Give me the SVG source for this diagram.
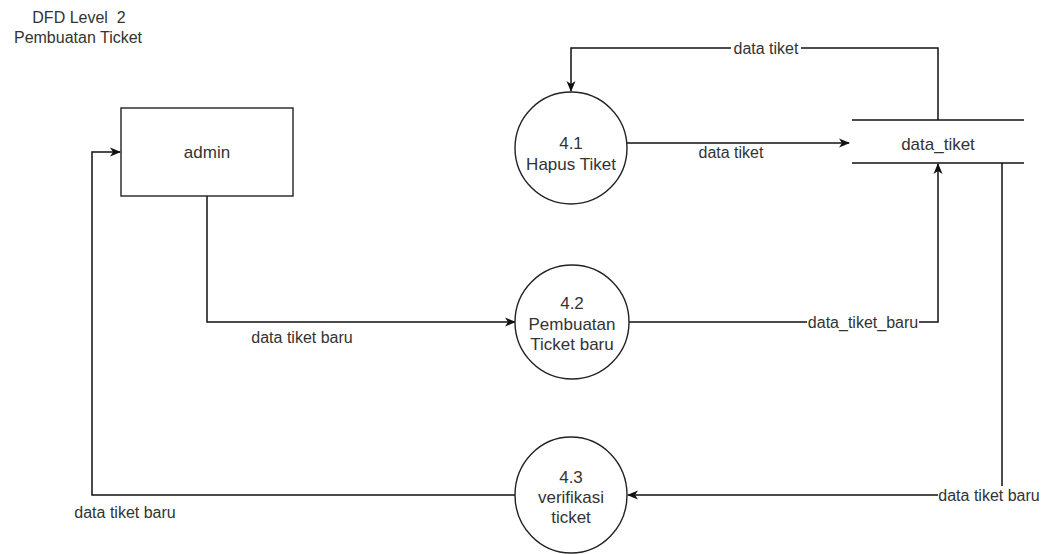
<svg xmlns="http://www.w3.org/2000/svg" width="1046" height="554" viewBox="0 0 1046 554">
<style>
text{font-family:"Liberation Sans",Arial,sans-serif;fill:#333;text-anchor:middle}
.t{font-size:16px}
.n{font-size:17px}
.lb{font-size:16px}
.shape{fill:#fff;stroke:#222;stroke-width:1.4}
.edge{fill:none;stroke:#111;stroke-width:1.5}
.bg{fill:#fff}
</style>
<defs>
<marker id="arr" markerWidth="12" markerHeight="10" refX="10" refY="5" orient="auto" markerUnits="userSpaceOnUse">
<path d="M0,0.5 L11,5 L0,9.5 L3,5 Z" fill="#111"/>
</marker>
</defs>
<rect width="1046" height="554" fill="#fff"/>
<g id="title">
<text class="t" x="79" y="23" xml:space="preserve">DFD Level  2</text>
<text class="t" x="78" y="43">Pembuatan Ticket</text>
</g>
<g id="connectors">
<path class="edge" d="M627,143 L849,143" marker-end="url(#arr)"/>
<path class="edge" d="M938,120 L938,48 L571,48 L571,91" marker-end="url(#arr)"/>
<path class="edge" d="M628,322 L938,322 L938,164" marker-end="url(#arr)"/>
<path class="edge" d="M1002,163 L1002,495 L628,495" marker-end="url(#arr)"/>
<path class="edge" d="M207,196 L207,322 L515,322" marker-end="url(#arr)"/>
<path class="edge" d="M515,495 L92,495 L92,152 L120,152" marker-end="url(#arr)"/>
<rect class="bg" x="731" y="38" width="70" height="20"/>
<text class="lb" x="766" y="54">data tiket</text>
<text class="lb" x="731" y="158">data tiket</text>
<rect class="bg" x="807" y="313" width="112" height="18"/>
<text class="lb" x="863" y="328">data_tiket_baru</text>
<rect class="bg" x="938" y="486" width="100" height="18"/>
<text class="lb" x="989" y="501">data tiket baru</text>
<text class="lb" x="302" y="343">data tiket baru</text>
<text class="lb" x="125" y="518">data tiket baru</text>
</g>
<g id="admin">
<rect class="shape" x="121" y="108" width="172" height="88"/>
<text class="n" x="207" y="158">admin</text>
</g>
<g id="p41">
<circle class="shape" cx="571" cy="148" r="56"/>
<text class="n" x="571" y="149">4.1</text>
<text class="n" x="571" y="170">Hapus Tiket</text>
</g>
<g id="p42">
<circle class="shape" cx="572" cy="322" r="57"/>
<text class="n" x="572" y="309">4.2</text>
<text class="n" x="572" y="330">Pembuatan</text>
<text class="n" x="572" y="350">Ticket baru</text>
</g>
<g id="p43">
<ellipse class="shape" cx="571" cy="495" rx="56" ry="58"/>
<text class="n" x="571" y="483">4.3</text>
<text class="n" x="571" y="503">verifikasi</text>
<text class="n" x="571" y="523">ticket</text>
</g>
<g id="data_tiket">
<line class="edge" x1="852" y1="120" x2="1024" y2="120"/>
<line class="edge" x1="852" y1="163" x2="1024" y2="163"/>
<text class="n" x="938" y="150">data_tiket</text>
</g>
</svg>
